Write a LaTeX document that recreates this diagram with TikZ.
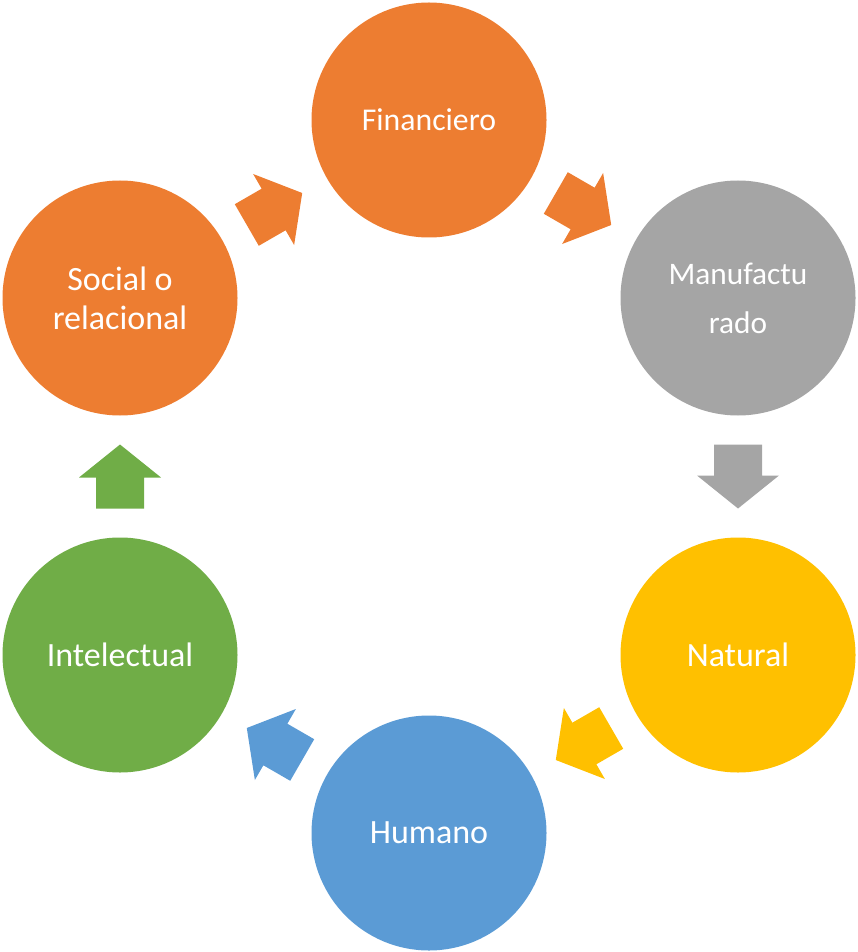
\documentclass[tikz,border=0pt]{standalone}
\usepackage{fontspec}
\setmainfont{Carlito}
\usetikzlibrary{calc}
\definecolor{corange}{HTML}{ED7D31}
\definecolor{cgray}{HTML}{A5A5A5}
\definecolor{cyellow}{HTML}{FFC000}
\definecolor{cblue}{HTML}{5B9BD5}
\definecolor{cgreen}{HTML}{70AD47}
\tikzset{
  capital/.style={circle, fill=#1, draw=none, minimum size=176.25pt, inner sep=0pt,
    text=white, align=center, font=\fontsize{25.5}{29.25}\selectfont},
}
\newcommand{\blockarrow}[4]{%
  \fill[#3, shift={($(#1)!0.5!(#2)$)}, rotate=#4]
    (-32,-24) -- (-1,-24) -- (-1,-41) -- (32,0) -- (-1,41) -- (-1,24) -- (-32,24) -- cycle;
}
\begin{document}
\begin{tikzpicture}[x=0.75pt, y=-0.75pt]
\useasboundingbox (0,0) rectangle (857,952);
\node[capital=corange, font=\fontsize{23.8}{29}\selectfont] (fin) at (429,120) {Financiero};
\node[capital=cgray, font=\fontsize{23.5}{36.75}\selectfont] (man) at (738,298) {Manufactu\\rado};
\node[capital=cyellow] (nat) at (738,655) {Natural};
\node[capital=cblue] (hum) at (429,833) {Humano};
\node[capital=cgreen] (int) at (120,655) {Intelectual};
\node[capital=corange] (soc) at (120,298) {Social o\\relacional};
\blockarrow{soc}{fin}{corange}{30}
\blockarrow{fin}{man}{corange}{-30}
\blockarrow{man}{nat}{cgray}{-90}
\blockarrow{nat}{hum}{cyellow}{210}
\blockarrow{hum}{int}{cblue}{150}
\blockarrow{int}{soc}{cgreen}{90}
\end{tikzpicture}
\end{document}
